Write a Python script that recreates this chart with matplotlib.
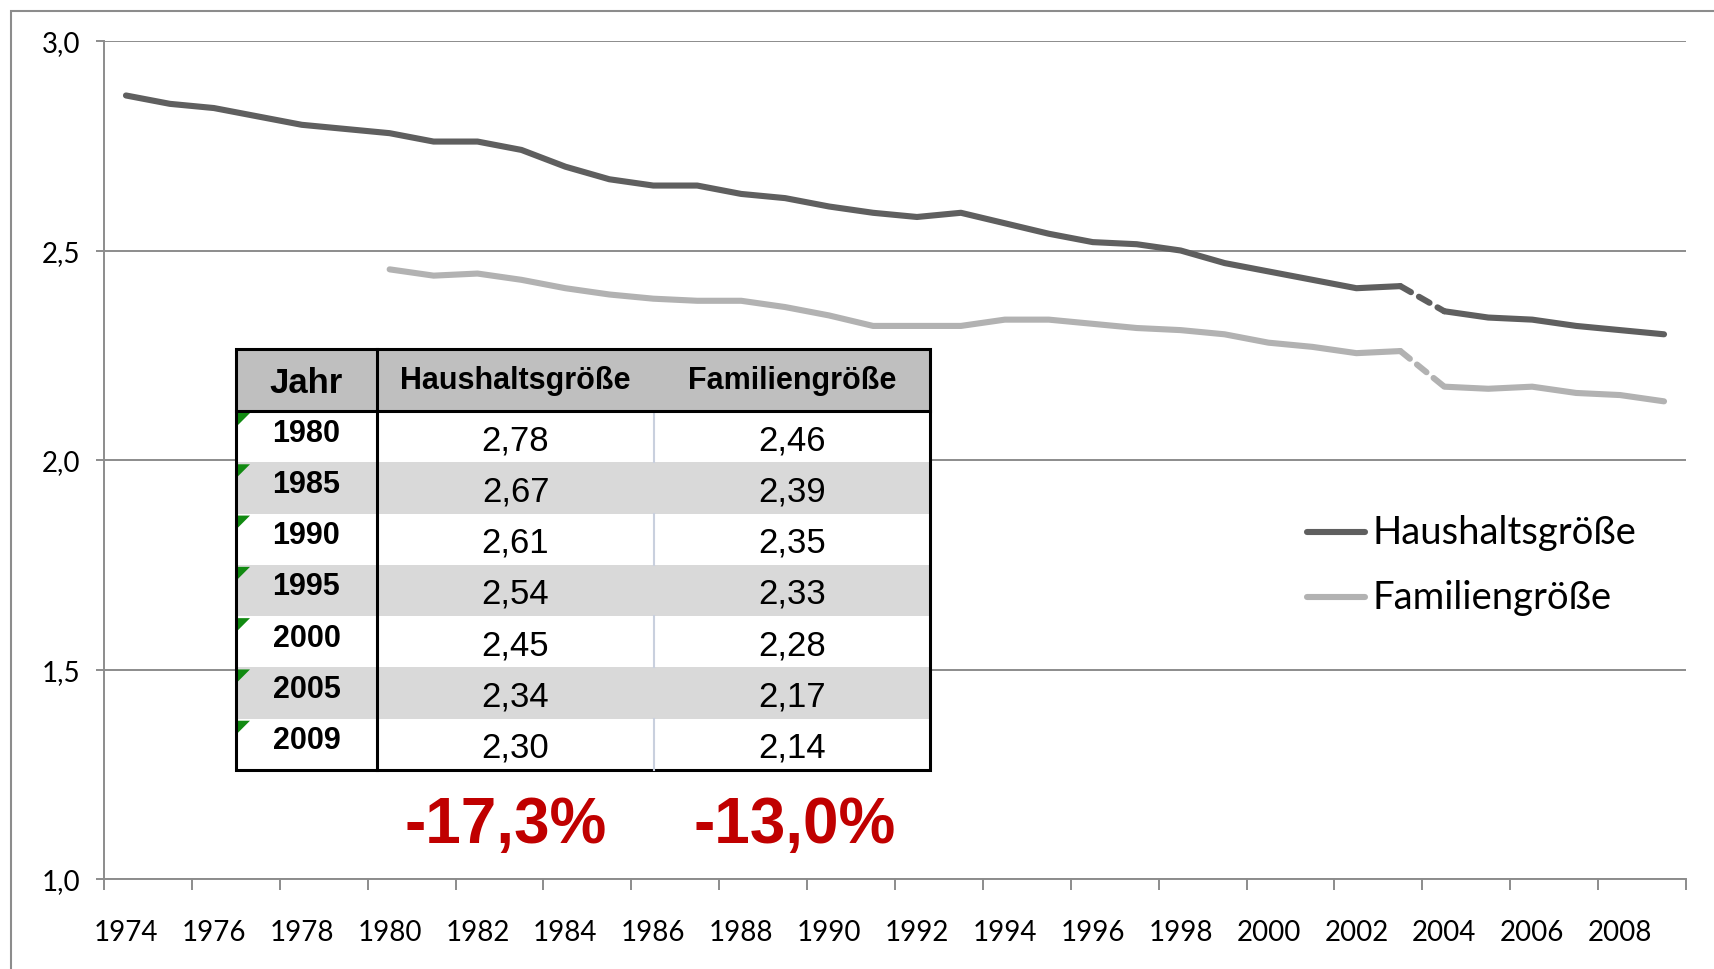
import matplotlib.pyplot as plt
from matplotlib.patches import Rectangle, Polygon
from matplotlib.lines import Line2D

years = list(range(1974, 2010))
haushalt = [2.87, 2.85, 2.84, 2.82, 2.80, 2.79, 2.78, 2.76, 2.76, 2.74,
            2.70, 2.67, 2.655, 2.655, 2.635, 2.625, 2.605, 2.59, 2.58, 2.59,
            2.565, 2.54, 2.52, 2.515, 2.50, 2.47, 2.45, 2.43, 2.41, 2.415,
            2.355, 2.34, 2.335, 2.32, 2.31, 2.30]
familie_years = list(range(1980, 2010))
familie = [2.455, 2.44, 2.445, 2.43, 2.41, 2.395, 2.385, 2.38, 2.38, 2.365,
           2.345, 2.32, 2.32, 2.32, 2.335, 2.335, 2.325, 2.315, 2.31, 2.30,
           2.28, 2.27, 2.255, 2.26, 2.175, 2.17, 2.175, 2.16, 2.155, 2.14]
break_year = 2003  # Bruch zwischen 2003 und 2004

tab_years = ['1980', '1985', '1990', '1995', '2000', '2005', '2009']
tab_haushalt = ['2,78', '2,67', '2,61', '2,54', '2,45', '2,34', '2,30']
tab_familie = ['2,46', '2,39', '2,35', '2,33', '2,28', '2,17', '2,14']
changes = ['-17,3%', '-13,0%']

W, H = 1715, 970
dark = '#5f5f5f'
light = '#b2b2b2'
grid_c = '#8c8c8c'
LW = 4.4

plt.rcParams['font.family'] = ['Lato', 'DejaVu Sans']
fig = plt.figure(figsize=(W / 100, H / 100), dpi=100)
ax = fig.add_axes([104 / W, 1 - 880 / H, (1686 - 104) / W, (880 - 42) / H])


def px(x, y):
    return x / W, 1 - y / H


def draw(xs, ys, color, label):
    i = xs.index(break_year)
    ax.plot(xs[:i + 1], ys[:i + 1], color=color, lw=LW, solid_capstyle='round', label=label)
    ax.plot(xs[i:i + 2], ys[i:i + 2], color=color, lw=LW, ls=(0, (2.0, 1.5)), dash_capstyle='round')
    ax.plot(xs[i + 1:], ys[i + 1:], color=color, lw=LW, solid_capstyle='round')


draw(years, haushalt, dark, 'Haushaltsgröße')
draw(familie_years, familie, light, 'Familiengröße')

ax.set_xlim(1973.5, 2009.5)
ax.set_ylim(1.0, 3.0)
ax.set_yticks([1.0, 1.5, 2.0, 2.5, 3.0])
ax.set_yticklabels(['1,0', '1,5', '2,0', '2,5', '3,0'])
ax.yaxis.grid(True, color=grid_c, lw=1.4)
ax.set_axisbelow(True)

# Ticks an den Kategoriegrenzen, Beschriftung in der Mitte
ax.set_xticks([y - 0.5 for y in range(1974, 2011, 2)])
ax.set_xticklabels([])
ax.set_xticks(list(range(1974, 2009, 2)), minor=True)
ax.set_xticklabels([str(y) for y in range(1974, 2009, 2)], minor=True)
ax.tick_params(axis='x', which='major', length=8, width=1.4, color=grid_c, direction='out')
ax.tick_params(axis='x', which='minor', length=0, pad=29, labelsize=20)
ax.tick_params(axis='y', length=6, width=1.4, color=grid_c, pad=11, labelsize=20)

for s in ['top', 'right']:
    ax.spines[s].set_visible(False)
for s in ['left', 'bottom']:
    ax.spines[s].set_color(grid_c)
    ax.spines[s].set_linewidth(1.4)

# Rahmen
fig.add_artist(Rectangle(px(11, 1000), 2000 / W, 988 / H, transform=fig.transFigure,
                         fill=False, edgecolor='#8c8c8c', lw=1.5))

# Legende
for k, (lab, col) in enumerate([('Haushaltsgröße', dark), ('Familiengröße', light)]):
    yy = 533 + k * 65
    fig.add_artist(Line2D([1307 / W, 1365 / W], [1 - yy / H] * 2, color=col, lw=LW,
                          solid_capstyle='round', transform=fig.transFigure))
    fig.text(*px(1372, yy), lab, fontsize=27.5, va='center', ha='left', color='black')

# Tabelle
arial = ['Liberation Sans', 'DejaVu Sans']
L, R, T, B = 236, 930, 350, 771
c1, c2 = 377, 654
hb = 412
rh = (B - hb) / len(tab_years)
fig.add_artist(Rectangle(px(L, hb), (R - L) / W, (hb - T) / H, transform=fig.transFigure,
                         facecolor='#bfbfbf', edgecolor='none'))
for i in range(len(tab_years)):
    top = hb + i * rh
    fc = '#d9d9d9' if i % 2 == 1 else 'white'
    fig.add_artist(Rectangle(px(L, top + rh), (R - L) / W, rh / H, transform=fig.transFigure,
                             facecolor=fc, edgecolor='none'))
    if i % 2 == 0:
        fig.add_artist(Line2D([c2 / W] * 2, [1 - top / H, 1 - (top + rh) / H], color='#c9d0de',
                              lw=1.5, transform=fig.transFigure))
    tri = [px(L + 2, top + 2), px(L + 14, top + 2), px(L + 2, top + 14)]
    fig.add_artist(Polygon(tri, closed=True, facecolor='#118a11', edgecolor='none',
                           transform=fig.transFigure))
    cy = top + rh / 2
    fig.text(*px((L + c1) / 2, cy - 4), tab_years[i], family=arial, fontsize=22,
             fontweight='bold', ha='center', va='center')
    fig.text(*px((c1 + c2) / 2, cy + 3), tab_haushalt[i], family=arial, fontsize=25,
             ha='center', va='center')
    fig.text(*px((c2 + R) / 2, cy + 3), tab_familie[i], family=arial, fontsize=25,
             ha='center', va='center')

fig.add_artist(Rectangle(px(L, B), (R - L) / W, (B - T) / H, transform=fig.transFigure,
                         fill=False, edgecolor='black', lw=2.2))
fig.add_artist(Line2D([L / W, R / W], [1 - hb / H] * 2, color='black', lw=2.2,
                      transform=fig.transFigure))
fig.add_artist(Line2D([c1 / W] * 2, [1 - T / H, 1 - B / H], color='black', lw=2.2,
                      transform=fig.transFigure))
fig.text(*px((L + c1) / 2, (T + hb) / 2 + 3), 'Jahr', family=arial, fontsize=25,
         fontweight='bold', ha='center', va='center')
fig.text(*px((c1 + c2) / 2, (T + hb) / 2), 'Haushaltsgröße', family=arial, fontsize=22,
         fontweight='bold', ha='center', va='center')
fig.text(*px((c2 + R) / 2, (T + hb) / 2), 'Familiengröße', family=arial, fontsize=22,
         fontweight='bold', ha='center', va='center')

fig.text(*px(506, 826), changes[0], family=arial, fontsize=46,
         fontweight='bold', color='#c00000', ha='center', va='center')
fig.text(*px(795, 826), changes[1], family=arial, fontsize=46,
         fontweight='bold', color='#c00000', ha='center', va='center')

fig.savefig('out.png', dpi=100)
